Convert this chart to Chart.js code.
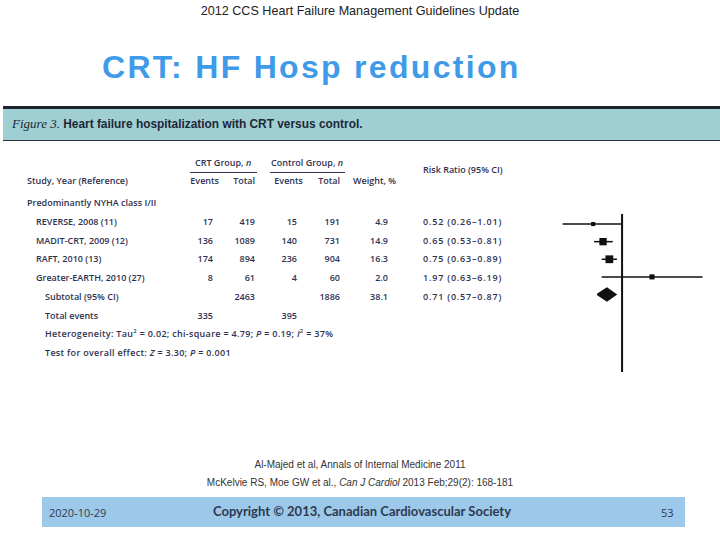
<!DOCTYPE html>
<html>
<head>
<meta charset="utf-8">
<script src="https://cdn.jsdelivr.net/npm/chart.js@4.4.0/dist/chart.umd.min.js"></script>
<style>
  body { margin: 0; background: #fff; }
  #slide { position: relative; width: 720px; height: 540px; overflow: hidden; background: #fff; font-family: "Liberation Sans", Arial, sans-serif; }
  .abs { position: absolute; white-space: nowrap; }
  #hdr { left: 0; width: 720px; top: 4px; text-align: center; font-family: "Liberation Sans Narrow", "Liberation Sans", sans-serif; font-size: 12.6px; color: #222; }
  #title { left: 102px; top: 49px; font-size: 32px; font-weight: bold; color: #3f9be8; letter-spacing: 2.3px; }
  #banner { left: 3px; top: 106px; width: 717px; height: 31px; background: #a0cfd3; border-top: 3px solid #1c2430; border-bottom: 1px solid #2a3440; }
  #bannerText { left: 12px; top: 116px; font-size: 11.9px; font-weight: bold; color: #1e2836; }
  #bannerText i { font-family: "Liberation Serif", serif; font-weight: normal; font-size: 13px; }
  .t { position: absolute; white-space: nowrap; font-family: "Open Sans", sans-serif; font-weight: 600; font-size: 9px; line-height: 12px; color: #2f3150; }
  .rr { letter-spacing: 0.8px; }
  .stat { letter-spacing: 0.3px; }
  .uline { position: absolute; height: 1px; background: #2f3150; }
  .foot { left: 0; width: 720px; text-align: center; font-family: "Liberation Sans Narrow", "Liberation Sans", sans-serif; font-size: 10px; color: #333; }
  #bar { left: 42px; top: 497px; width: 643px; height: 30px; background: #9cc8ea; }
  #date { left: 49px; top: 505px; font-family: "Open Sans", sans-serif; font-size: 11px; color: #2e3a4f; }
  #copy { left: 0; width: 724px; top: 503px; text-align: center; font-family: "Lato", sans-serif; font-weight: bold; font-size: 13px; color: #2e3a4f; }
  #page { left: 661px; top: 505px; font-family: "Open Sans", sans-serif; font-size: 11px; color: #2e3a4f; }
  #chart { position: absolute; left: 0; top: 0; }
</style>
</head>
<body>
<div id="slide">
  <div id="hdr" class="abs">2012 CCS Heart Failure Management Guidelines Update</div>
  <div id="title" class="abs">CRT: HF Hosp reduction</div>
  <div id="banner" class="abs"></div>
  <div id="bannerText" class="abs"><i>Figure 3.</i> Heart failure hospitalization with CRT versus control.</div>
  <div id="table"></div>
  <div class="abs foot" style="top:459px">Al-Majed et al, Annals of Internal Medicine 2011</div>
  <div class="abs foot" style="top:477px">McKelvie RS, Moe GW et al., <i>Can J Cardiol</i> 2013 Feb;29(2): 168-181</div>
  <div id="bar" class="abs"></div>
  <div id="date" class="abs">2020-10-29</div>
  <div id="copy" class="abs">Copyright © 2013, Canadian Cardiovascular Society</div>
  <div id="page" class="abs">53</div>
  <canvas id="chart" width="720" height="540"></canvas>
</div>
<script>
// study data (Figure 3)
var studies = ['REVERSE, 2008 (11)', 'MADIT-CRT, 2009 (12)', 'RAFT, 2010 (13)', 'Greater-EARTH, 2010 (27)']
var crtEvents = [17, 136, 174, 8]
var crtTotal = [419, 1089, 894, 61]
var ctlEvents = [15, 140, 236, 4]
var ctlTotal = [191, 731, 904, 60]
var weights = [4.9, 14.9, 16.3, 2.0]
var rr = [0.52, 0.65, 0.75, 1.97]
var rrLow = [0.26, 0.53, 0.63, 0.63]
var rrHigh = [1.01, 0.81, 0.89, 6.19]

// pooled result
var subCrtTotal = 2463
var subCtlTotal = 1886
var subWeight = 38.1
var subRR = 0.71
var subLow = 0.57
var subHigh = 0.87
var totCrtEvents = 335
var totCtlEvents = 395

var fmt2 = v => v.toFixed(2)
var ciText = (r, lo, hi) => fmt2(r) + ' (' + fmt2(lo) + '–' + fmt2(hi) + ')'

// ---- table text ----
var table = document.getElementById('table')
function put(html, x, y, align, cls) {
    var d = document.createElement('div')
    d.className = 't' + (cls ? ' ' + cls : '')
    d.innerHTML = html
    d.style.top = (y - 6) + 'px'
    if (align == 'right') d.style.right = (720 - x) + 'px'
    else d.style.left = x + 'px'
    table.appendChild(d)
}
function uline(x1, x2, y) {
    var d = document.createElement('div')
    d.className = 'uline'
    d.style.left = x1 + 'px'
    d.style.width = (x2 - x1) + 'px'
    d.style.top = y + 'px'
    table.appendChild(d)
}

// column anchors
var cStudy = 27, cCrtEv = 213, cCrtTot = 255, cCtlEv = 297, cCtlTot = 340, cWeight = 388, cRR = 423
var rowTop = 203.3, rowStep = 18.7
var rowY = i => rowTop + i * rowStep

put('CRT Group, <i>n</i>', 195, 163)
put('Control Group, <i>n</i>', 271, 163)
uline(190, 257, 172)
uline(270, 345, 172)
put('Study, Year (Reference)', cStudy, 181)
put('Events', cCrtEv + 6, 181, 'right')
put('Total', cCrtTot, 181, 'right')
put('Events', cCtlEv + 6, 181, 'right')
put('Total', cCtlTot, 181, 'right')
put('Weight, %', 353, 181)
put('Risk Ratio (95% CI)', cRR, 170)

put('Predominantly NYHA class I/II', cStudy, rowY(0))
studies.forEach((s, i) => {
    var y = rowY(i + 1)
    put(s, 36, y)
    put(crtEvents[i], cCrtEv, y, 'right')
    put(crtTotal[i], cCrtTot, y, 'right')
    put(ctlEvents[i], cCtlEv, y, 'right')
    put(ctlTotal[i], cCtlTot, y, 'right')
    put(weights[i].toFixed(1), cWeight, y, 'right')
    put(ciText(rr[i], rrLow[i], rrHigh[i]), cRR, y, 'left', 'rr')
})
put('Subtotal (95% CI)', 45, rowY(5))
put(subCrtTotal, cCrtTot, rowY(5), 'right')
put(subCtlTotal, cCtlTot, rowY(5), 'right')
put(subWeight.toFixed(1), cWeight, rowY(5), 'right')
put(ciText(subRR, subLow, subHigh), cRR, rowY(5), 'left', 'rr')
put('Total events', 45, rowY(6))
put(totCrtEvents, cCrtEv, rowY(6), 'right')
put(totCtlEvents, cCtlEv, rowY(6), 'right')
put('Heterogeneity: Tau<sup style="font-size:6px;line-height:0">2</sup> = 0.02; chi-square = 4.79; <i>P</i> = 0.19; <i>I</i><sup style="font-size:6px;line-height:0">2</sup> = 37%', 45, rowY(7), 'left', 'stat')
put('Test for overall effect: <i>Z</i> = 3.30; <i>P</i> = 0.001', 45, rowY(8), 'left', 'stat')

// ---- forest plot ----
var yMin = 0.43, yMax = 9.4
var black = '#111'
var datasets = []

// line of no effect
datasets.push({
    data: [{x: 1, y: yMin}, {x: 1, y: yMax}],
    showLine: true, borderColor: black, borderWidth: 2, pointRadius: 0
})
// confidence intervals
studies.forEach((s, i) => {
    datasets.push({
        data: [{x: rrLow[i], y: i + 1}, {x: rrHigh[i], y: i + 1}],
        showLine: true, borderColor: black, borderWidth: 1.5, pointRadius: 0
    })
})
// point estimates
datasets.push({
    data: rr.map((v, i) => ({x: v, y: i + 1})),
    pointStyle: 'rect', pointRadius: [2.9, 5.2, 5.5, 3.6],
    backgroundColor: black, borderColor: black, borderWidth: 0
})
// pooled diamond
var dh = 0.36
datasets.push({
    data: [{x: subLow, y: 5}, {x: subRR, y: 5 - dh}, {x: subHigh, y: 5}, {x: subRR, y: 5 + dh}, {x: subLow, y: 5}],
    showLine: true, fill: 'shape', backgroundColor: black, borderColor: black, borderWidth: 1.5, pointRadius: 0
})

new Chart(document.getElementById('chart'), {
    type: 'scatter',
    data: { datasets: datasets },
    options: {
        responsive: false,
        animation: false,
        layout: { padding: { left: 551, right: 12, top: 214, bottom: 168 } },
        plugins: { legend: { display: false }, tooltip: { enabled: false } },
        scales: {
            x: { type: 'logarithmic', min: 0.2, max: 7, display: false },
            y: { type: 'linear', min: yMin, max: yMax, reverse: true, display: false }
        }
    }
})
</script>
</body>
</html>
